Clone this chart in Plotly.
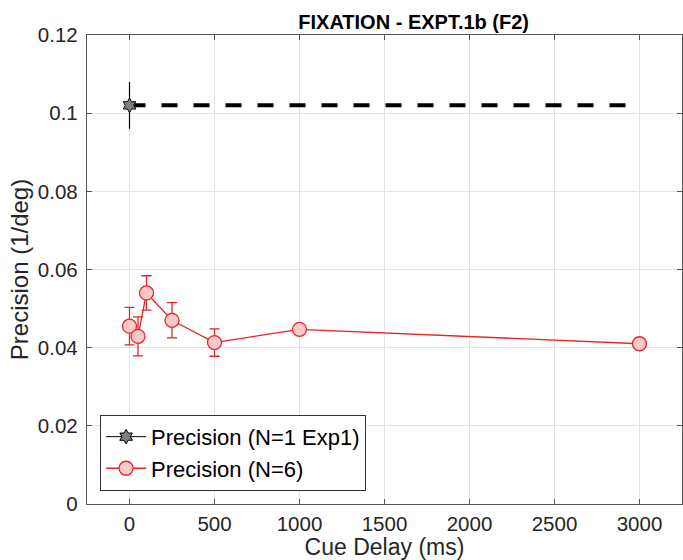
import plotly.graph_objects as go

# Data
delay_ms = [0, 50, 100, 250, 500, 1000, 3000]
precision_n6 = [0.0455, 0.0429, 0.0540, 0.0470, 0.0413, 0.0447, 0.0410]
precision_n6_err = [0.0048, 0.0050, 0.0044, 0.0045, 0.0035, 0.0008, 0.0008]

exp1_delay = [0]
exp1_precision = [0.1020]
exp1_err = [0.0060]
exp1_ref_x = [0, 3000]
exp1_ref_y = [0.1020, 0.1020]

x_ticks = [0, 500, 1000, 1500, 2000, 2500, 3000]

FONT = "Liberation Sans, Arial, Helvetica, sans-serif"
RED = "#e0252b"
TXT = "#262626"

fig = go.Figure()

fig.add_trace(go.Scatter(
    x=exp1_ref_x, y=exp1_ref_y, mode="lines",
    line=dict(color="black", width=4, dash="16px,16px"),
    showlegend=False, hoverinfo="skip"))

fig.add_trace(go.Scatter(
    x=exp1_delay, y=exp1_precision, mode="lines+markers",
    name="Precision (N=1 Exp1)",
    line=dict(color="black", width=1),
    marker=dict(symbol="hexagram", size=11, color="#7f7f7f",
                line=dict(color="black", width=1)),
    error_y=dict(type="data", array=exp1_err, color="black",
                 thickness=1.2, width=0)))

fig.add_trace(go.Scatter(
    x=delay_ms, y=precision_n6, mode="lines+markers",
    name="Precision (N=6)",
    line=dict(color=RED, width=1.3),
    marker=dict(symbol="circle", size=14, color="#ffc8c8",
                line=dict(color=RED, width=1.3)),
    error_y=dict(type="data", array=precision_n6_err, color=RED,
                 thickness=1.3, width=5)))

axis_common = dict(
    showgrid=True, gridcolor="#e3e3e3", gridwidth=1,
    showline=True, linecolor="#555555", linewidth=1.3, mirror="ticks",
    ticks="inside", ticklen=5, tickcolor="#555555",
    zeroline=False,
    tickfont=dict(family=FONT, size=20.5, color=TXT),
)

fig.update_layout(
    width=683, height=560,
    margin=dict(l=87, r=1, t=35, b=56),
    paper_bgcolor="white", plot_bgcolor="white",
    font=dict(family=FONT, color=TXT),
    title=dict(text="<b>FIXATION - EXPT.1b (F2)</b>",
               x=0.549, xanchor="center", xref="paper",
               y=0.961, yanchor="middle",
               font=dict(family=FONT, size=20, color="black")),
    xaxis=dict(range=[-250, 3250], tickvals=x_ticks,
               ticklabelstandoff=1,
               title=dict(text="Cue Delay (ms)", font=dict(family=FONT, size=23, color=TXT),
                          standoff=2),
               **axis_common),
    yaxis=dict(range=[0, 0.12], dtick=0.02, tick0=0,
               ticklabelstandoff=4,
               title=dict(text="Precision (1/deg)", font=dict(family=FONT, size=24, color=TXT),
                          standoff=2),
               **axis_common),
    legend=dict(x=0.022, y=0.028, xanchor="left", yanchor="bottom",
                bgcolor="white", bordercolor="#333333", borderwidth=1,
                font=dict(family=FONT, size=22, color="black"),
                tracegroupgap=0, itemwidth=40),
    showlegend=True,
)

fig.write_html("out.html")
